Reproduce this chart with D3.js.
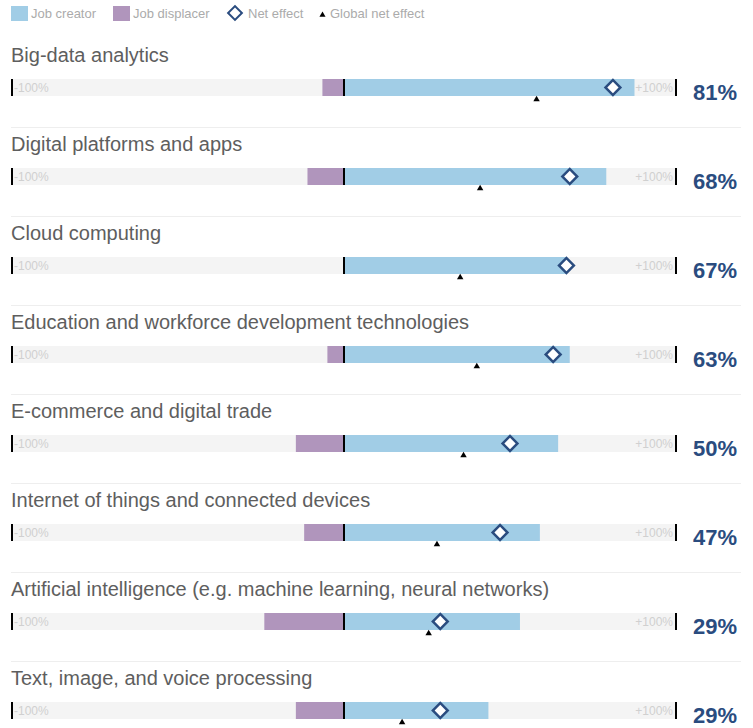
<!DOCTYPE html>
<html>
<head>
<meta charset="utf-8">
<script src="https://cdn.jsdelivr.net/npm/d3@7"></script>
<style>
  body { margin: 0; background: #fff; }
  svg text { font-family: "Liberation Sans", Arial, sans-serif; }
</style>
</head>
<body>
<div id="chart"></div>
<script>
// chart data
var categories = [
    "Big-data analytics",
    "Digital platforms and apps",
    "Cloud computing",
    "Education and workforce development technologies",
    "E-commerce and digital trade",
    "Internet of things and connected devices",
    "Artificial intelligence (e.g. machine learning, neural networks)",
    "Text, image, and voice processing"
];
var creator   = [87.5, 79, 67, 68, 64.5, 59, 53, 43.5];
var displacer = [6.5, 11, 0, 5, 14.5, 12, 24, 14.5];
var netEffect = [81, 68, 67, 63, 50, 47, 29, 29];
var globalNet = [58, 41, 35, 40, 36, 28, 25.5, 17.5];
var legendLabels = ["Job creator", "Job displacer", "Net effect", "Global net effect"];

var width = 753, height = 728;
var barH = 17;
var cBlue = "#a1cde6", cPurple = "#b095bc", cNavy = "#2a4c7f";

var x = d3.scaleLinear().domain([-100, 100]).range([12, 676]);
var y = d3.scaleBand().domain(categories).range([79, 79 + 89 * categories.length]);

var svg = d3.select("#chart").append("svg")
    .attr("width", width)
    .attr("height", height);

// legend
var lg = svg.append("g");
lg.append("rect").attr("x", 11).attr("y", 6).attr("width", 17).attr("height", 15).attr("fill", cBlue);
lg.append("text").attr("x", 31).attr("y", 18).text(legendLabels[0]);
lg.append("rect").attr("x", 113).attr("y", 6).attr("width", 17).attr("height", 15).attr("fill", cPurple);
lg.append("text").attr("x", 133).attr("y", 18).text(legendLabels[1]);
lg.append("path")
    .attr("d", d3.symbol().type(d3.symbolSquare).size(95))
    .attr("transform", "translate(235,13) rotate(45)")
    .attr("fill", "#fff").attr("stroke", cNavy).attr("stroke-width", 2);
lg.append("text").attr("x", 248).attr("y", 18).text(legendLabels[2]);
lg.append("path")
    .attr("d", d3.symbol().type(d3.symbolTriangle).size(16))
    .attr("transform", "translate(322.5,15)")
    .attr("fill", "#000");
lg.append("text").attr("x", 330).attr("y", 18).text(legendLabels[3]);
lg.selectAll("text").style("font-size", "13px").attr("fill", "#ababab");

// one group per technology
var row = svg.selectAll(".row")
    .data(categories)
    .enter().append("g")
    .attr("class", "row")
    .attr("transform", function(d) { return "translate(0," + y(d) + ")"; });

row.append("text")
    .attr("x", 11)
    .attr("y", -17)
    .text(function(d) { return d; })
    .style("font-size", "20px")
    .attr("fill", "#5e5e5e");

// separator under each row (not after the last)
row.filter(function(d, i) { return i < categories.length - 1; })
    .append("line")
    .attr("x1", 11).attr("x2", 741)
    .attr("y1", 48.5).attr("y2", 48.5)
    .attr("stroke", "#eeeeee").attr("stroke-width", 1);

// background track
row.append("rect")
    .attr("x", x(-100))
    .attr("width", x(100) - x(-100))
    .attr("height", barH)
    .attr("fill", "#f4f4f4");

row.append("text")
    .attr("x", x(-100) + 2)
    .attr("y", 12.5)
    .text("-100%")
    .style("font-size", "12px")
    .attr("fill", "#d0d0d0");
row.append("text")
    .attr("x", x(100) - 3)
    .attr("y", 12.5)
    .attr("text-anchor", "end")
    .text("+100%")
    .style("font-size", "12px")
    .attr("fill", "#d0d0d0");

// displacer and creator bars
row.append("rect")
    .attr("x", function(d, i) { return x(-displacer[i]); })
    .attr("width", function(d, i) { return x(0) - x(-displacer[i]); })
    .attr("height", barH)
    .attr("fill", cPurple);
row.append("rect")
    .attr("x", x(0))
    .attr("width", function(d, i) { return x(creator[i]) - x(0); })
    .attr("height", barH)
    .attr("fill", cBlue);

// end ticks and zero line
[-100, 0, 100].forEach(function(v) {
    row.append("line")
        .attr("x1", x(v)).attr("x2", x(v))
        .attr("y1", 0).attr("y2", barH)
        .attr("stroke", "#000").attr("stroke-width", 2);
});

// net effect diamond
row.append("path")
    .attr("d", d3.symbol().type(d3.symbolSquare).size(110))
    .attr("transform", function(d, i) { return "translate(" + x(netEffect[i]) + "," + (barH / 2) + ") rotate(45)"; })
    .attr("fill", "#fff").attr("stroke", cNavy).attr("stroke-width", 2.5);

// global net effect triangle
row.append("path")
    .attr("d", d3.symbol().type(d3.symbolTriangle).size(18))
    .attr("transform", function(d, i) { return "translate(" + x(globalNet[i]) + "," + (barH + 3.5) + ")"; })
    .attr("fill", "#000");

// percentage label
row.append("text")
    .attr("x", 693)
    .attr("y", 20.5)
    .text(function(d, i) { return netEffect[i] + "%"; })
    .style("font-size", "22px")
    .style("font-weight", "bold")
    .attr("fill", cNavy);
</script>
</body>
</html>
